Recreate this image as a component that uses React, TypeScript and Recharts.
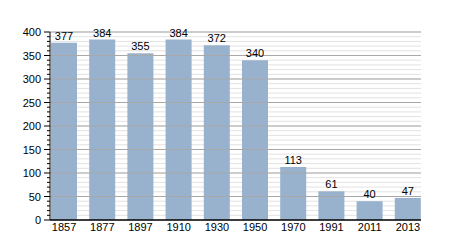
import { BarChart, Bar, XAxis, YAxis, CartesianGrid, ReferenceLine, LabelList } from 'recharts';

const years = ['1857', '1877', '1897', '1910', '1930', '1950', '1970', '1991', '2011', '2013'];
const population = [377, 384, 355, 384, 372, 340, 113, 61, 40, 47];
const majorTicks = [0, 50, 100, 150, 200, 250, 300, 350, 400];
const minorTicks = Array.from({ length: 41 }, (_, i) => i * 10);

const data = years.map((year, i) => ({ year, value: population[i] }));

const FONT = '"Liberation Sans", Arial, sans-serif';

// y axis tick: short mark every 10, long mark + label every 50
function YTick(props: any) {
  const { x, y, payload } = props;
  const major = payload.value % 50 === 0;
  return (
    <g>
      <line x1={x - (major ? 6 : 3)} x2={x} y1={y} y2={y} stroke="#000" strokeWidth={1} />
      {major && (
        <text x={x - 9} y={y} dy={4} textAnchor="end" fontSize={11} fontFamily={FONT} fill="#000">
          {payload.value}
        </text>
      )}
    </g>
  );
}

export default function App() {
  return (
    <div style={{ width: 450, height: 250 }}>
      <style>{'body{margin:0}'}</style>
      <BarChart
        width={450}
        height={250}
        data={data}
        margin={{ top: 32, right: 29, left: 0, bottom: 0 }}
        barCategoryGap={6}
      >
        <CartesianGrid vertical={false} stroke="#e2e2e2" />
        {majorTicks.slice(1).map((v) => (
          <ReferenceLine key={v} y={v} stroke="#a8a8a8" />
        ))}
        <XAxis
          dataKey="year"
          padding={{ left: -5, right: -6 }}
          height={30}
          tickLine={false}
          tickSize={0}
          tickMargin={3}
          axisLine={{ stroke: '#000', strokeWidth: 1.5 }}
          tick={{ fontSize: 11, fontFamily: FONT, fill: '#000' }}
          interval={0}
        />
        <YAxis
          width={50}
          domain={[0, 400]}
          ticks={minorTicks}
          interval={0}
          tickLine={false}
          tickSize={0}
          tickMargin={0}
          axisLine={{ stroke: '#000' }}
          tick={<YTick />}
        />
        <Bar dataKey="value" fill="#98b1cc" isAnimationActive={false}>
          <LabelList dataKey="value" position="top" offset={3} fontSize={11} fontFamily={FONT} fill="#000" />
        </Bar>
      </BarChart>
    </div>
  );
}
